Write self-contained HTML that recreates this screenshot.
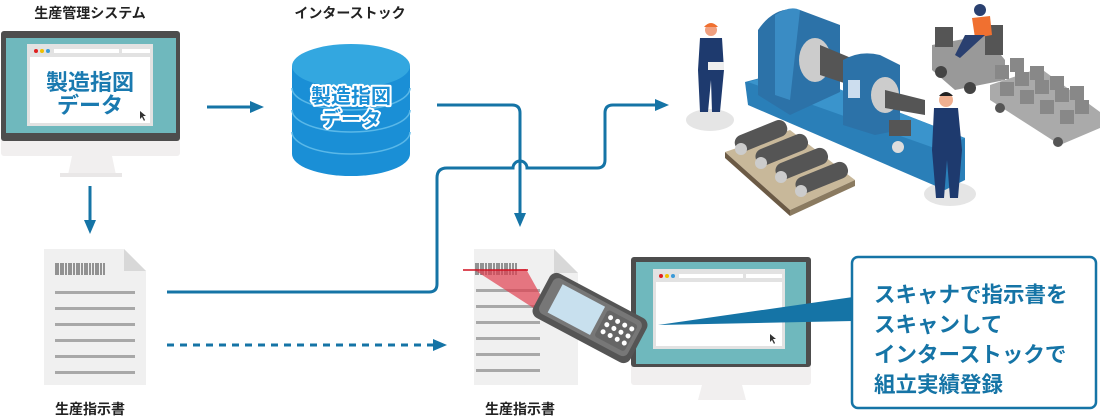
<!DOCTYPE html>
<html><head><meta charset="utf-8"><style>
html,body{margin:0;padding:0;background:#fff;}
svg{display:block;}
text{font-family:"Liberation Sans","Noto Sans CJK JP",sans-serif;font-weight:bold;}
</style></head><body>
<svg width="1100" height="420" viewBox="0 0 1100 420" xmlns="http://www.w3.org/2000/svg">
<defs>
<marker id="ah" markerWidth="14" markerHeight="14" refX="10" refY="7" orient="auto" markerUnits="userSpaceOnUse"><path d="M0,1 L14,7 L0,13 z" fill="#1574a6"/></marker>
</defs>
<text x="90" y="18" font-size="14" text-anchor="middle" fill="#222">生産管理システム</text>
<text x="350" y="18" font-size="14" text-anchor="middle" fill="#222">インターストック</text>
<text x="90" y="414" font-size="14" text-anchor="middle" fill="#222">生産指示書</text>
<text x="520" y="414" font-size="14" text-anchor="middle" fill="#222">生産指示書</text>

<!-- Monitor 1 -->
<rect x="1" y="31" width="179" height="125" rx="3" fill="#f1efef"/>
<rect x="1" y="31" width="179" height="110" rx="3" fill="#4d4d4d"/>
<rect x="6" y="38" width="170" height="95" fill="#6fb8bd"/>
<rect x="27" y="44" width="126" height="82" fill="#e2e2e2"/>
<rect x="30" y="57" width="120" height="66" fill="#fff"/>
<circle cx="36" cy="51" r="2" fill="#e02020"/><circle cx="42" cy="51" r="2" fill="#f0c000"/><circle cx="48" cy="51" r="2" fill="#3a9ad8"/>
<rect x="54" y="49" width="65" height="4" fill="#fff"/><rect x="122" y="49" width="28" height="4" fill="#fff"/>
<text x="90" y="90" font-size="22" text-anchor="middle" fill="#1a7ab0">製造指図</text>
<text x="90" y="113" font-size="22" text-anchor="middle" fill="#1a7ab0">データ</text>
<path d="M140,111 l0,8 l2,-2 l2,4 l1,-1 l-2,-4 l3,0z" fill="#333"/>
<path d="M72,156 L112,156 L116,175 L68,175 z" fill="#f1efef"/>
<rect x="60" y="173" width="62" height="4" fill="#e9e7e7"/>

<!-- Arrows -->
<line x1="207" y1="107" x2="260" y2="107" stroke="#1574a6" stroke-width="3" marker-end="url(#ah)"/>
<line x1="90" y1="186" x2="90" y2="230" stroke="#1574a6" stroke-width="3" marker-end="url(#ah)"/>
<line x1="167" y1="345" x2="443" y2="345" stroke="#1574a6" stroke-width="3" stroke-dasharray="7,6" marker-end="url(#ah)"/>
<path d="M437,105 L512,105 Q520,105 520,113 L520,223" fill="none" stroke="#1574a6" stroke-width="3" marker-end="url(#ah)"/>
<path d="M167,292 L429,292 Q437,292 437,284 L437,178 Q437,168 447,168 L513,168 A7,7 0 0 1 527,168 L597,168 Q605,168 605,160 L605,113 Q605,105 613,105 L665,105" fill="none" stroke="#1574a6" stroke-width="3" marker-end="url(#ah)"/>

<!-- Cylinder -->
<path d="M292,66 L292,154 A59,22 0 0 0 410,154 L410,66 z" fill="#1a8fd6"/>
<ellipse cx="351" cy="66" rx="59" ry="22" fill="#33a7e0"/>
<path d="M292,88 A59,22 0 0 0 410,88" fill="none" stroke="#5ab8e8" stroke-width="1.5"/>
<path d="M292,110 A59,22 0 0 0 410,110" fill="none" stroke="#5ab8e8" stroke-width="1.5"/>
<path d="M292,132 A59,22 0 0 0 410,132" fill="none" stroke="#5ab8e8" stroke-width="1.5"/>
<text x="351" y="103" font-size="20" text-anchor="middle" fill="#fff" stroke="#fff" stroke-width="4" stroke-linejoin="round">製造指図</text>
<text x="351" y="103" font-size="20" text-anchor="middle" fill="#1a8fd6">製造指図</text>
<text x="351" y="126" font-size="20" text-anchor="middle" fill="#fff" stroke="#fff" stroke-width="4" stroke-linejoin="round">データ</text>
<text x="351" y="126" font-size="20" text-anchor="middle" fill="#1a8fd6">データ</text>

<!-- Doc 1 -->
<path d="M44,249 L124,249 L146,271 L146,385 L44,385 z" fill="#f0f0f0"/>
<path d="M124,249 L124,271 L146,271 z" fill="#d8d8d8"/>
<g stroke="#333" stroke-width="1">
<path d="M56,263v12M58,263v12M61,263v12M63,263v12M66,263v12M69,263v12M71,263v12M74,263v12M77,263v12M79,263v12M82,263v12M85,263v12M87,263v12M90,263v12M93,263v12M96,263v12M98,263v12M101,263v12M104,263v12"/>
</g>
<g fill="#a8a8a8"><rect x="55" y="291" width="80" height="3"/><rect x="55" y="307" width="80" height="3"/><rect x="55" y="323" width="80" height="3"/><rect x="55" y="339" width="80" height="3"/><rect x="55" y="355" width="80" height="3"/><rect x="55" y="371" width="80" height="3"/></g>

<!-- Doc 2 -->
<path d="M474,249 L554,249 L578,273 L578,385 L474,385 z" fill="#f0f0f0"/>
<path d="M554,249 L554,273 L578,273 z" fill="#d8d8d8"/>
<g stroke="#333" stroke-width="1">
<path d="M476,263v12M478,263v12M481,263v12M483,263v12M486,263v12M489,263v12M491,263v12M494,263v12M497,263v12M499,263v12M502,263v12M505,263v12M507,263v12M510,263v12M513,263v12M516,263v12"/>
</g>
<g fill="#a8a8a8"><rect x="476" y="289" width="64" height="3"/><rect x="476" y="305" width="64" height="3"/><rect x="476" y="321" width="64" height="3"/><rect x="476" y="337" width="64" height="3"/><rect x="476" y="353" width="64" height="3"/><rect x="476" y="369" width="64" height="3"/></g>
<polygon points="476,271 526,269 545,303 535,309" fill="#e04050" opacity="0.7"/>
<line x1="463" y1="270" x2="528" y2="270" stroke="#d01020" stroke-width="1.5"/>

<!-- Monitor 2 -->
<rect x="631" y="257" width="180" height="128" rx="3" fill="#f1efef"/>
<rect x="631" y="257" width="180" height="110" rx="3" fill="#4d4d4d"/>
<rect x="636" y="262" width="170" height="102" fill="#6fb8bd"/>
<rect x="653" y="269" width="132" height="80" fill="#e2e2e2"/>
<rect x="656" y="282" width="126" height="64" fill="#fff"/>
<circle cx="661" cy="276" r="2" fill="#e02020"/><circle cx="667" cy="276" r="2" fill="#f0c000"/><circle cx="673" cy="276" r="2" fill="#3a9ad8"/>
<rect x="679" y="274" width="64" height="4" fill="#fff"/><rect x="746" y="274" width="36" height="4" fill="#fff"/>
<path d="M702,385 L742,385 L746,400 L698,400 z" fill="#f1efef"/>
<path d="M770,334 l0,8 l2,-2 l2,4 l1,-1 l-2,-4 l3,0z" fill="#333"/>

<!-- Scanner -->
<g transform="translate(590,318) rotate(28)">
<rect x="-55" y="-25" width="110" height="50" rx="8" fill="#555"/>
<rect x="-50" y="-21" width="100" height="40" rx="6" fill="#777"/>
<rect x="-40" y="-17" width="48" height="32" fill="#c8e0ee"/>
<g fill="#fff"><rect x="12" y="-16" width="34" height="30" rx="3" fill="#666"/><circle cx="18" cy="-10" r="2.5"/><circle cx="26" cy="-10" r="2.5"/><circle cx="34" cy="-10" r="2.5"/><circle cx="42" cy="-10" r="2.5"/><circle cx="18" cy="-2" r="2.5"/><circle cx="26" cy="-2" r="2.5"/><circle cx="34" cy="-2" r="2.5"/><circle cx="42" cy="-2" r="2.5"/><circle cx="18" cy="6" r="2.5"/><circle cx="26" cy="6" r="2.5"/><circle cx="34" cy="6" r="2.5"/><circle cx="42" cy="6" r="2.5"/></g>
</g>

<!-- Callout -->
<polygon points="853,297 853,321 658,325" fill="#1574a6"/>
<rect x="852" y="257" width="244" height="151" rx="6" fill="#fff" stroke="#1574a6" stroke-width="2.5"/>
<g font-size="21.5" fill="#1574a6">
<text x="874" y="302">スキャナで指示書を</text>
<text x="874" y="332">スキャンして</text>
<text x="874" y="362">インターストックで</text>
<text x="874" y="392">組立実績登録</text>
</g>

<!-- Factory illustration -->
<ellipse cx="710" cy="120" rx="24" ry="11" fill="#e5e5e5"/>
<ellipse cx="950" cy="194" rx="26" ry="12" fill="#e5e5e5"/>
<polygon points="725,152 790,130 855,180 790,210" fill="#c8b89a"/>
<polygon points="725,152 725,158 790,216 790,210" fill="#6b5a45"/>
<polygon points="790,210 790,216 855,186 855,180" fill="#8a7a60"/>
<g fill="#555"><rect x="735" y="128" width="55" height="17" rx="8" transform="rotate(-22 760 140)"/><rect x="755" y="142" width="55" height="17" rx="8" transform="rotate(-22 780 152)"/><rect x="775" y="156" width="55" height="17" rx="8" transform="rotate(-22 800 166)"/><rect x="795" y="170" width="55" height="17" rx="8" transform="rotate(-22 820 180)"/></g>
<g fill="#ccc"><circle cx="741" cy="149" r="6"/><circle cx="761" cy="163" r="6"/><circle cx="781" cy="177" r="6"/><circle cx="801" cy="191" r="6"/></g>
<polygon points="745,82 790,70 965,138 965,180 945,190 748,105" fill="#2a7fb8"/>
<polygon points="748,82 790,70 965,138 940,150" fill="#3a94cc"/>
<path d="M758,95 L758,30 Q775,5 800,10 L840,25 L840,92 L790,115 z" fill="#2c72a8"/>
<path d="M800,10 Q790,5 775,15 L775,95 L790,100 Z" fill="#3a8cc4"/>
<ellipse cx="815" cy="60" rx="16" ry="22" fill="#ccc"/>
<polygon points="820,45 880,70 880,95 820,75" fill="#555"/>
<path d="M843,80 L843,60 Q860,50 880,55 L900,65 L900,130 L875,135 L843,125 z" fill="#2c72a8"/>
<ellipse cx="885" cy="95" rx="14" ry="18" fill="#ccc"/>
<polygon points="885,90 925,100 925,115 885,108" fill="#555"/>
<rect x="848" y="80" width="12" height="18" fill="#cde"/>
<rect x="889" y="120" width="22" height="16" fill="#555"/>
<circle cx="898" cy="147" r="6" fill="#ddd"/>
<polygon points="932,45 985,35 1005,60 1005,80 955,90 932,70" fill="#999"/>
<rect x="935" y="27" width="18" height="20" fill="#555"/>
<rect x="985" y="25" width="18" height="30" fill="#555"/>
<circle cx="941" cy="72" r="6" fill="#444"/><circle cx="970" cy="88" r="6" fill="#444"/>
<circle cx="980" cy="10" r="6" fill="#2a4070"/>
<path d="M972,18 L990,16 L992,35 L975,38z" fill="#f07030"/>
<path d="M965,35 L985,35 L960,58 L955,55z" fill="#2a4070"/>
<polygon points="990,85 1040,68 1100,112 1100,128 1060,145 990,100" fill="#aaa"/>
<g fill="#888">
<rect x="995" y="65" width="14" height="14"/><rect x="1015" y="72" width="14" height="14"/><rect x="1035" y="80" width="14" height="14"/><rect x="1055" y="88" width="14" height="14"/><rect x="1075" y="100" width="14" height="14"/>
<rect x="1010" y="58" width="14" height="14"/><rect x="1030" y="66" width="14" height="14"/><rect x="1050" y="76" width="14" height="14"/><rect x="1070" y="86" width="14" height="14"/>
<rect x="1000" y="82" width="14" height="14"/><rect x="1020" y="90" width="14" height="14"/><rect x="1040" y="100" width="14" height="14"/><rect x="1060" y="110" width="14" height="14"/>
</g>
<circle cx="1000" cy="108" r="5" fill="#555"/><circle cx="1058" cy="142" r="5" fill="#555"/>
<circle cx="711" cy="30" r="6" fill="#f0a080"/>
<path d="M704,27 Q711,19 718,27z" fill="#f07030"/>
<path d="M700,38 L722,38 L724,70 L720,112 L712,112 L711,80 L708,112 L700,112 L698,70 z" fill="#1e3a6e"/>
<rect x="708" y="62" width="16" height="8" fill="#eee"/>
<circle cx="946" cy="100" r="7" fill="#f0b090"/>
<path d="M939,96 Q946,88 953,96z" fill="#222"/>
<path d="M934,108 L958,108 L962,150 L958,198 L950,198 L947,160 L944,198 L936,198 L932,150 z" fill="#1e3a6e"/>
</svg>
</body></html>
